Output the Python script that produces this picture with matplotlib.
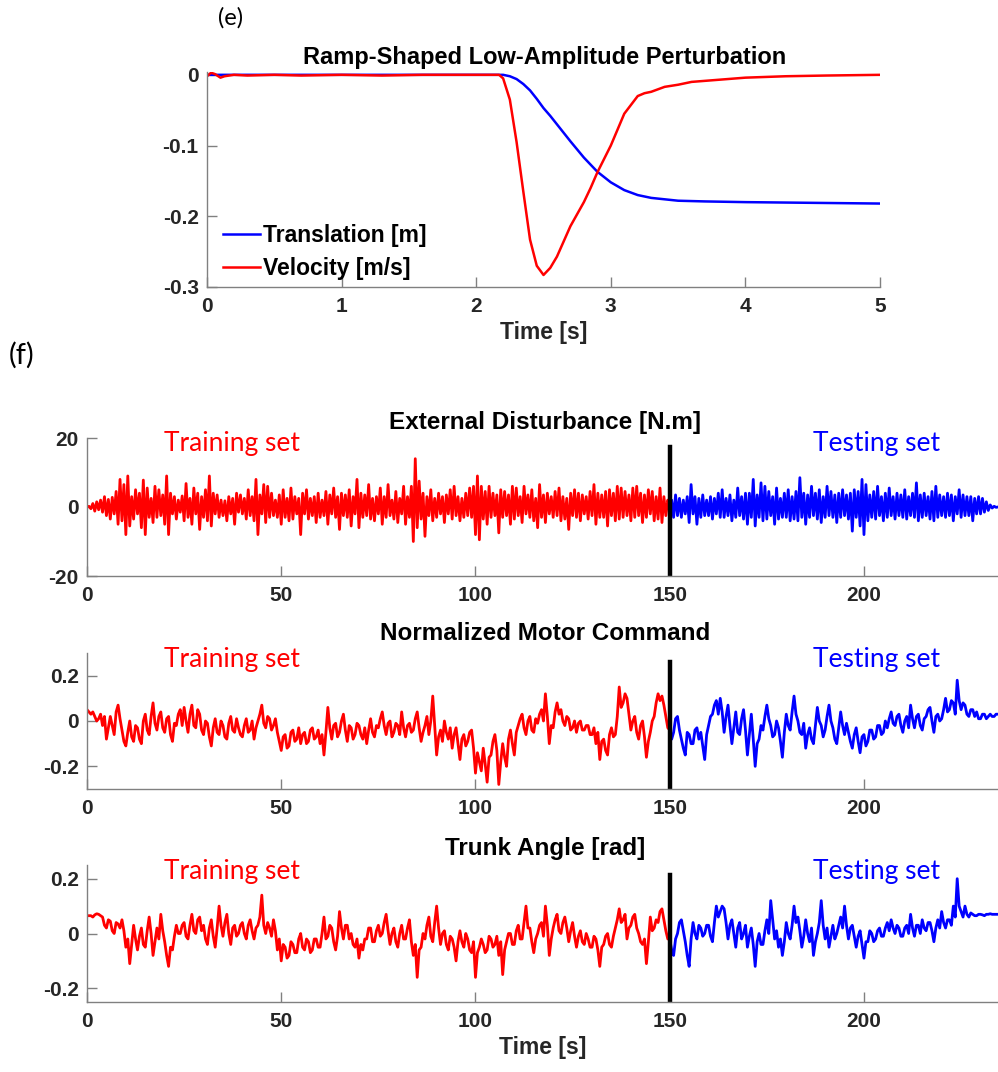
import matplotlib.pyplot as plt
import numpy as np

# ---- panel (e): ramp perturbation ----
t_trans = [0, 1.0, 2.0, 2.2, 2.25, 2.3, 2.35, 2.4, 2.45, 2.5, 2.55, 2.6, 2.7, 2.8, 2.9, 3.0, 3.1, 3.2,
           3.3, 3.4, 3.5, 3.7, 4.0, 4.5, 5.0]
translation = [0, 0, 0, 0, -0.002, -0.006, -0.013, -0.022, -0.034, -0.047, -0.058, -0.07, -0.094, -0.117,
               -0.137, -0.152, -0.163, -0.17, -0.174, -0.176, -0.178, -0.179, -0.180, -0.181, -0.182]

t_vel = [0, 0.03, 0.06, 0.1, 0.13, 0.2, 0.3, 0.5, 0.7, 1.0, 1.3, 1.6, 1.9, 2.1, 2.17, 2.2, 2.25, 2.3,
         2.35, 2.4, 2.45, 2.5, 2.55, 2.6, 2.7, 2.8, 2.85, 2.9, 3.0, 3.1, 3.2, 3.25, 3.3, 3.4, 3.5,
         3.6, 3.8, 4.0, 4.3, 4.6, 5.0]
velocity = [-0.002, 0.003, 0.001, -0.004, -0.002, 0.0, -0.001, 0.0, -0.001, 0.0, -0.001, 0.0, 0.0, 0.0,
            0.0, -0.005, -0.035, -0.095, -0.165, -0.233, -0.27, -0.283, -0.273, -0.257, -0.214,
            -0.18, -0.16, -0.138, -0.10, -0.055, -0.03, -0.026, -0.024, -0.017, -0.014, -0.01,
            -0.007, -0.004, -0.002, -0.001, 0.0]

# ---- panel (f): external disturbance, 0.5 s samples ----
dist_train = [
    0, 0.2, -0.5, 1.0, -1.2, 1.5, -0.8, 2.0, -1.5, 3.0, -2.5, 2.2, -3.5, 2.8, -2.0, 4.5, -5.0, 8.0, -4.0, 6.5,
    -8.0, 9.0, -5.5, 3.0, -3.5, 5.0, -2.0, 4.0, -6.0, 7.8, -8.0, 5.5, -3.0, 2.5, -4.5, 6.0, -3.0, 5.0, -2.5, 3.5,
    -5.0, 9.0, -8.0, 4.0, -2.0, 3.0, -3.5, 2.0, -1.5, 3.2, -4.0, 6.8, -3.0, 2.5, -5.0, 5.5, -2.0, 4.0, -6.5, 3.0,
    -3.0, 5.0, -4.0, 9.0, -5.5, 4.0, -2.0, 3.5, -3.0, 2.0, -2.5, 1.8, -4.0, 3.0, -2.0, 2.5, -5.0, 4.0, -1.5, 3.5,
    -2.0, 2.5, -3.5, 5.0, -2.5, 3.0, -4.0, 8.0, -8.0, 3.5, -2.0, 6.5, -4.5, 6.0, -3.0, 4.0, -2.5, 2.0, -3.0, 3.5,
    -5.0, 5.0, -3.0, 2.5, -4.0, 5.5, -3.5, 3.0, -2.0, 2.5, -8.0, 4.0, -2.0, 5.0, -3.5, 2.5, -2.5, 3.0, -4.5, 4.0,
    -3.0, 2.0, -2.5, 4.5, -5.0, 3.5, -2.0, 5.5, -3.0, 3.0, -6.5, 4.0, -2.5, 3.5, -3.0, 5.0, -5.5, 3.0, -2.0, 8.0,
    -6.0, 4.0, -3.0, 3.5, -2.5, 6.5, -3.5, 2.5, -4.0, 3.0, -2.0, 5.5, -5.0, 3.0, -3.0, 6.5, -2.5, 2.0, -3.5, 4.5,
    -4.5, 2.5, -2.0, 6.0, -5.0, 3.0, -3.0, 6.0, -10.0, 14.0, -6.0, 7.5, -3.5, 4.0, -8.5, 3.0, -2.5, 5.0, -4.0, 2.5,
    -3.0, 4.0, -2.0, 3.0, -4.5, 3.5, -2.0, 5.0, -3.5, 6.0, -2.5, 3.0, -4.0, 2.5, -3.0, 4.0, -2.5, 5.5, -3.0, 6.0,
    -8.0, 9.0, -9.5, 6.0, -3.5, 4.5, -5.0, 6.0, -3.0, 4.0, -2.5, 3.5, -7.5, 5.0, -3.0, 4.5, -2.5, 3.5, -5.0, 6.0,
    -3.5, 5.5, -2.5, 3.0, -4.5, 6.0, -2.0, 3.5, -3.0, 5.0, -4.0, 2.5, -6.0, 6.5, -3.0, 3.5, -4.5, 4.0, -2.0, 3.0,
    -3.0, 4.5, -2.5, 5.5, -4.0, 3.0, -3.5, 2.5, -6.5, 4.0, -2.5, 5.0, -3.0, 4.0, -4.0, 3.5, -2.0, 3.0, -3.5, 4.5,
    -2.5, 6.5, -5.0, 4.0, -3.0, 3.5, -3.0, 4.5, -5.5, 5.0, -2.5, 4.0, -4.0, 6.0, -3.5, 5.5, -3.0, 4.5, -2.5, 3.5,
    -4.0, 5.5, -3.0, 6.0, -2.5, 4.0, -4.5, 3.5, -3.0, 5.0, -2.0, 4.5, -4.0, 3.0, -3.5, 5.5, -4.5, 3.0, -2.5, 2.0,
]
dist_test = [
    0.5, 2.0, -3.0, 3.5, -2.5, 2.5, -3.0, 2.0, -2.0, 3.0, -4.5, 6.5, -2.0, 3.0, -5.0, 2.5, -3.0, 3.5, -2.5, 2.0,
    -2.5, 3.0, -3.5, 2.5, -2.0, 4.0, -3.0, 5.0, -3.0, 2.5, -2.5, 3.5, -4.0, 2.0, -3.0, 5.5, -2.5, 3.0, -3.5, 4.0,
    -5.0, 4.0, -3.0, 8.0, -5.5, 3.5, -3.0, 7.0, -4.0, 6.0, -3.5, 4.5, -2.5, 3.0, -5.0, 5.5, -3.5, 2.5, -3.0, 4.0,
    -3.0, 5.0, -4.0, 3.0, -3.5, 4.5, -4.0, 8.5, -3.0, 4.0, -5.0, 3.5, -3.0, 6.0, -2.5, 4.0, -3.5, 5.0, -4.5, 3.0,
    -3.0, 6.0, -2.5, 4.5, -3.0, 3.5, -4.5, 4.0, -3.0, 5.0, -2.5, 3.5, -3.5, 4.0, -7.0, 5.0, -3.0, 4.5, -5.5, 8.0,
    -8.0, 6.5, -4.0, 3.5, -3.0, 4.5, -3.5, 6.0, -2.5, 3.0, -4.0, 4.0, -3.0, 5.5, -2.5, 3.0, -3.5, 4.0, -2.5, 3.5,
    -3.0, 5.0, -3.5, 3.0, -2.5, 4.0, -3.0, 7.0, -4.0, 3.5, -3.0, 4.0, -2.5, 3.0, -3.5, 4.5, -4.0, 6.0, -3.0, 3.5,
    -2.5, 3.0, -3.0, 4.0, -2.5, 3.5, -4.0, 3.0, -2.0, 5.0, -3.0, 3.5, -2.5, 3.0, -2.5, 3.0, -4.0, 2.5, -2.0, 3.0,
    -2.0, 2.5, -1.5, 1.5, -1.0, 0.6, -0.3, 0.2, -0.1, 0.0,
]

# ---- normalized motor command, 0.5 s samples ----
motor_train = [
    0.05, 0.04, 0.03, 0.04, 0.02, 0.00, 0.01, 0.03, -0.02, 0.02, -0.08, -0.03, 0.02, -0.02, -0.06, 0.04, 0.07, 0.01, -0.04, -0.09,
    -0.11, -0.05, 0.00, -0.07, -0.09, -0.02, -0.03, -0.08, -0.10, 0.00, 0.03, -0.04, -0.06, 0.02, 0.08, -0.01, -0.04, 0.02, 0.04, -0.03,
    -0.05, 0.01, 0.02, -0.06, -0.09, -0.01, -0.02, 0.03, 0.05, -0.02, 0.06, 0.00, -0.05, 0.03, 0.07, -0.02, -0.03, 0.05, 0.03, -0.04,
    -0.06, 0.00, -0.01, -0.07, -0.11, -0.03, 0.01, -0.05, -0.06, 0.00, -0.02, -0.07, -0.08, -0.01, 0.02, -0.04, -0.05, 0.01, -0.03, -0.06,
    -0.07, -0.02, 0.01, -0.05, -0.04, 0.00, -0.08, -0.03, 0.00, 0.03, 0.07, -0.01, -0.03, 0.02, 0.01, -0.04, -0.02, 0.01, -0.05, -0.09,
    -0.13, -0.07, -0.06, -0.12, -0.11, -0.05, -0.04, -0.09, -0.08, -0.03, -0.10, -0.06, -0.05, -0.10, -0.09, -0.04, -0.03, -0.08, -0.07, -0.04,
    -0.10, -0.06, -0.15, -0.05, 0.06, -0.03, -0.08, -0.02, -0.01, -0.07, -0.05, 0.00, 0.03, -0.04, -0.09, -0.02, -0.03, -0.08, -0.06, -0.01,
    -0.02, -0.06, -0.08, -0.03, -0.10, -0.04, 0.01, -0.05, -0.07, -0.02, -0.03, 0.01, 0.04, -0.02, -0.06, -0.01, 0.00, -0.07, -0.05, -0.01,
    -0.02, -0.06, 0.04, -0.03, -0.07, -0.02, -0.01, -0.05, -0.04, 0.01, 0.04, -0.03, -0.09, -0.05, -0.02, 0.02, -0.06, 0.00, 0.11, -0.02,
    -0.15, -0.07, -0.04, -0.09, 0.00, -0.05, -0.08, -0.03, -0.12, -0.06, -0.03, -0.10, -0.17, -0.08, -0.06, -0.11, -0.09, -0.05, -0.04, -0.12,
    -0.23, -0.14, -0.18, -0.22, -0.12, -0.19, -0.27, -0.16, -0.15, -0.09, -0.06, -0.13, -0.28, -0.18, -0.10, -0.16, -0.20, -0.08, -0.04, -0.10,
    -0.15, -0.05, -0.02, 0.01, 0.03, -0.03, -0.06, 0.00, 0.02, -0.04, -0.05, 0.01, -0.01, 0.03, 0.05, 0.00, 0.12, 0.02, -0.10, -0.02,
    -0.03, 0.04, 0.08, 0.03, 0.05, 0.00, -0.02, 0.02, 0.01, -0.04, -0.03, 0.00, -0.05, -0.01, 0.00, -0.04, -0.04, -0.02, -0.02, -0.06,
    -0.06, -0.03, -0.10, -0.05, -0.17, -0.09, -0.08, -0.13, -0.15, -0.06, -0.03, -0.07, -0.06, 0.02, 0.15, 0.06, 0.08, 0.12, 0.10, 0.03,
    -0.04, 0.00, 0.02, -0.05, -0.08, -0.02, 0.00, -0.07, -0.16, -0.09, -0.05, 0.00, 0.02, 0.08, 0.12, 0.09, 0.11, 0.07, 0.02, -0.03,
]
motor_test = [
    -0.04, -0.08, -0.05, 0.01, 0.02, -0.04, -0.08, -0.12, -0.15, -0.05, -0.06, -0.10, -0.10, -0.04, -0.03, -0.08, -0.05, -0.11, -0.17, -0.06,
    -0.02, 0.02, 0.03, 0.07, 0.09, 0.03, 0.10, 0.04, -0.05, 0.02, 0.07, -0.02, -0.10, -0.03, 0.04, -0.05, -0.06, 0.01, 0.05, -0.04,
    -0.15, -0.06, 0.03, -0.08, -0.20, -0.10, -0.08, -0.02, -0.04, 0.02, 0.07, 0.01, -0.02, -0.07, -0.06, 0.00, -0.03, -0.09, -0.16, -0.05,
    0.03, -0.02, -0.04, 0.04, 0.11, 0.03, 0.00, -0.05, -0.06, -0.01, -0.12, -0.06, -0.03, -0.08, -0.10, -0.02, 0.06, 0.00, -0.02, -0.07,
    -0.04, 0.02, 0.07, 0.00, -0.03, -0.08, -0.10, -0.03, 0.04, -0.02, -0.06, -0.01, -0.05, -0.09, -0.12, -0.06, -0.03, -0.09, -0.14, -0.07,
    -0.06, -0.11, -0.09, -0.04, -0.04, -0.08, -0.07, -0.02, -0.02, -0.06, -0.05, 0.00, -0.03, 0.01, 0.04, -0.01, -0.02, 0.02, 0.03, -0.02,
    -0.05, 0.00, 0.02, -0.03, 0.07, 0.01, -0.03, 0.02, 0.03, -0.02, -0.04, 0.01, 0.02, 0.05, 0.06, 0.00, -0.05, 0.02, 0.03, 0.00,
    0.01, 0.05, 0.10, 0.04, 0.05, 0.09, 0.08, 0.03, 0.18, 0.09, 0.05, 0.08, 0.07, 0.03, 0.02, 0.05, 0.05, 0.02, 0.04, 0.01,
    0.01, 0.03, 0.03, 0.01, 0.02, 0.03, 0.02, 0.02, 0.03, 0.03,
]

# ---- trunk angle, 0.5 s samples ----
trunk_train = [
    0.065, 0.065, 0.065, 0.06, 0.068, 0.072, 0.07, 0.065, 0.06, 0.03, 0.02, 0.05, 0.045, 0.01, 0.0, 0.04, 0.035, 0.02, 0.05, 0.01,
    -0.05, -0.02, -0.11, -0.04, 0.03, -0.02, -0.06, -0.01, 0.02, -0.04, -0.05, 0.01, 0.06, 0.00, -0.08, -0.03, 0.02, -0.02, 0.07, 0.01,
    -0.03, -0.08, -0.12, -0.05, -0.06, -0.01, 0.03, 0.00, 0.0, 0.03, 0.04, -0.01, -0.02, 0.03, 0.07, 0.01, 0.0, 0.05, 0.06, 0.01,
    0.03, -0.02, -0.04, 0.02, 0.05, -0.01, -0.05, 0.02, 0.10, 0.03, -0.01, 0.04, 0.07, 0.00, -0.04, 0.02, 0.03, -0.01, 0.0, 0.03,
    0.04, 0.00, -0.02, 0.03, 0.05, 0.01, -0.02, 0.02, 0.03, 0.06, 0.14, 0.03, 0.0, 0.04, 0.02, -0.01, 0.05, 0.01, -0.06, -0.02,
    -0.10, -0.04, -0.05, -0.09, -0.08, -0.03, -0.04, -0.07, -0.07, -0.02, 0.0, -0.05, -0.06, -0.02, -0.03, -0.07, -0.06, -0.02, -0.02, -0.05,
    -0.05, 0.00, 0.06, -0.02, -0.01, 0.03, 0.02, -0.03, -0.06, -0.01, 0.08, 0.02, -0.02, 0.03, 0.03, -0.02, 0.0, -0.04, -0.05, -0.02,
    -0.09, -0.04, -0.06, -0.02, -0.02, 0.02, 0.02, -0.03, -0.03, 0.01, 0.03, -0.01, 0.0, 0.04, 0.07, 0.01, -0.04, 0.00, 0.02, -0.03,
    -0.05, 0.00, 0.03, -0.02, -0.02, 0.02, 0.05, -0.03, -0.08, -0.04, -0.16, -0.06, -0.05, 0.00, -0.02, 0.03, 0.06, -0.01, -0.03, 0.04,
    0.10, 0.02, -0.04, 0.00, 0.01, -0.04, -0.06, -0.01, -0.02, -0.05, -0.10, -0.03, 0.01, -0.03, -0.05, 0.00, -0.02, -0.06, -0.07, -0.03,
    -0.16, -0.07, -0.05, -0.02, -0.04, -0.07, -0.06, -0.01, -0.02, -0.05, -0.04, -0.01, -0.08, -0.03, -0.15, -0.06, -0.03, 0.00, 0.00, -0.04,
    -0.04, 0.01, 0.03, -0.02, -0.02, 0.04, 0.10, 0.02, 0.02, -0.03, -0.07, -0.02, 0.00, 0.03, 0.04, -0.01, 0.10, 0.03, -0.08, -0.02,
    0.02, 0.05, 0.07, 0.01, 0.00, 0.04, 0.06, 0.02, -0.03, 0.01, 0.04, -0.01, -0.05, -0.01, 0.01, -0.03, -0.04, 0.00, -0.02, -0.05,
    -0.05, -0.01, -0.02, -0.06, -0.12, -0.05, -0.04, -0.01, 0.00, -0.04, -0.05, -0.01, 0.02, 0.05, 0.09, 0.04, 0.05, 0.07, -0.02, 0.02,
    0.03, 0.06, 0.07, 0.02, 0.00, -0.03, -0.04, -0.02, -0.11, -0.03, 0.06, 0.01, 0.02, 0.05, 0.04, 0.08, 0.09, 0.05, 0.01, -0.02,
]
trunk_test = [
    -0.02, -0.06, -0.08, -0.02, 0.00, 0.04, 0.05, 0.01, -0.03, -0.08, -0.12, -0.02, 0.04, 0.00, -0.02, 0.03, 0.02, -0.01, 0.00, 0.03,
    0.03, -0.01, -0.03, 0.04, 0.10, 0.06, 0.08, 0.10, 0.09, 0.04, -0.02, 0.03, 0.05, 0.00, -0.05, 0.02, 0.04, -0.02, 0.00, 0.03,
    -0.05, -0.01, 0.02, -0.04, -0.12, -0.03, 0.00, -0.04, -0.04, 0.01, 0.05, 0.00, 0.12, 0.05, -0.02, 0.01, -0.05, -0.02, -0.08, -0.03,
    0.04, 0.00, -0.02, 0.03, 0.10, 0.04, 0.06, 0.01, -0.05, -0.01, 0.05, 0.00, -0.03, 0.02, -0.08, -0.03, 0.00, 0.04, 0.12, 0.03,
    -0.02, 0.02, -0.05, -0.01, 0.03, -0.02, 0.00, 0.03, 0.06, 0.02, 0.10, 0.03, -0.02, 0.02, 0.03, -0.01, -0.05, -0.01, 0.01, -0.04,
    -0.09, -0.03, -0.03, 0.01, 0.00, -0.03, -0.02, 0.01, 0.02, -0.01, -0.01, 0.02, 0.04, 0.01, 0.05, 0.02, 0.00, 0.03, 0.02, -0.01,
    -0.01, 0.02, 0.03, 0.00, 0.07, 0.02, -0.01, 0.03, 0.03, 0.00, 0.05, 0.02, 0.01, 0.04, 0.04, 0.01, -0.03, 0.02, 0.05, 0.02,
    0.08, 0.04, 0.02, 0.05, 0.05, 0.03, 0.10, 0.06, 0.20, 0.10, 0.08, 0.06, 0.10, 0.07, 0.06, 0.075, 0.07, 0.065, 0.065, 0.07,
    0.07, 0.068, 0.065, 0.07, 0.07, 0.072, 0.07, 0.07, 0.07, 0.07,
]

split = 150
W, H = 998, 1072
fig = plt.figure(figsize=(W / 100, H / 100), dpi=100)
plt.rcParams['font.family'] = ['Liberation Sans', 'DejaVu Sans']

spine_c = '#808080'
tick_c = '#262626'


def px_axes(l, t, r, b):
    return fig.add_axes([l / W, 1 - b / H, (r - l) / W, (b - t) / H])


def style(ax):
    for s in ['top', 'right']:
        ax.spines[s].set_visible(False)
    for s in ['left', 'bottom']:
        ax.spines[s].set_color(spine_c)
        ax.spines[s].set_linewidth(1.0)
    ax.tick_params(direction='in', length=7, width=1, color=spine_c, labelcolor=tick_c, labelsize=15)
    ax.tick_params(axis='x', pad=7)
    ax.tick_params(axis='y', pad=6)
    for lab in ax.get_xticklabels() + ax.get_yticklabels():
        lab.set_fontweight('bold')


# panel (e)
ax = px_axes(207, 72, 880, 287)
ax.plot(t_trans, translation, color='#0000ff', lw=1.8, label='Translation [m]')
ax.plot(t_vel, velocity, color='#ff0000', lw=1.8, label='Velocity [m/s]')
ax.set_xlim(0, 5)
ax.set_ylim(-0.3, 0.004)
ax.set_xticks([0, 1, 2, 3, 4, 5])
ax.set_yticks([-0.3, -0.2, -0.1, 0])
ax.set_yticklabels(['-0.3', '-0.2', '-0.1', '0'])
style(ax)
ax.set_xlabel('Time [s]', fontsize=16.5, fontweight='bold', color=tick_c, labelpad=4)
ax.legend(loc='lower left', bbox_to_anchor=(0.0, -0.04), frameon=False, handlelength=1.6,
          handletextpad=0.15, labelspacing=0.4, borderaxespad=0.3,
          prop={'weight': 'bold', 'size': 16.5})
fig.text(545 / W, 1 - 57 / H, 'Ramp-Shaped Low-Amplitude Perturbation', ha='center', va='center',
         fontsize=17, fontweight='bold', color='black')
fig.text(231 / W, 1 - 18 / H, '(e)', ha='center', va='center', fontsize=17, family=['Lato', 'DejaVu Sans'])
fig.text(22 / W, 1 - 355 / H, '(f)', ha='center', va='center', fontsize=21, family=['Lato', 'DejaVu Sans'])

panels = [
    (dist_train, dist_test, (438, 576), (-20, 20), [-20, 0, 20], 17.5, 'External Disturbance [N.m]', 423),
    (motor_train, motor_test, (653, 789), (-0.3, 0.3), [-0.2, 0, 0.2], 0.26, 'Normalized Motor Command', 634),
    (trunk_train, trunk_test, (865, 1002), (-0.25, 0.25), [-0.2, 0, 0.2], 0.215, 'Trunk Angle [rad]', 848),
]

dt = 0.5
for i, (tr, te, (top, bot), ylim, yt, vtop, title, ty) in enumerate(panels):
    ax = px_axes(87, top, 998, bot)
    t_tr = np.arange(len(tr)) * dt
    t_te = split + np.arange(len(te)) * dt
    ax.plot(np.append(t_tr, split), np.append(tr, te[0]), color='#ff0000', lw=2.0)
    ax.plot(t_te, te, color='#0000ff', lw=2.0)
    ax.plot([split, split], [ylim[0], vtop], color='black', lw=3.2)
    ax.set_xlim(0, 234.5)
    ax.set_ylim(*ylim)
    ax.set_xticks([0, 50, 100, 150, 200])
    ax.set_yticks(yt)
    ax.set_yticklabels([('%g' % v) for v in yt])
    style(ax)
    fig.text(545 / W, 1 - ty / H, title, ha='center', va='center', fontsize=17.5, fontweight='bold',
             color='black')
    fig.text(232 / W, 1 - (top + 6) / H, 'Training set', ha='center', va='center', fontsize=19,
             color='#ff0000', family=['Lato', 'DejaVu Sans'])
    fig.text(877 / W, 1 - (top + 6) / H, 'Testing set', ha='center', va='center', fontsize=19,
             color='#0000ff', family=['Lato', 'DejaVu Sans'])
    if i == 2:
        ax.set_xlabel('Time [s]', fontsize=16.5, fontweight='bold', color=tick_c, labelpad=4)

fig.savefig('out.png', dpi=100)
